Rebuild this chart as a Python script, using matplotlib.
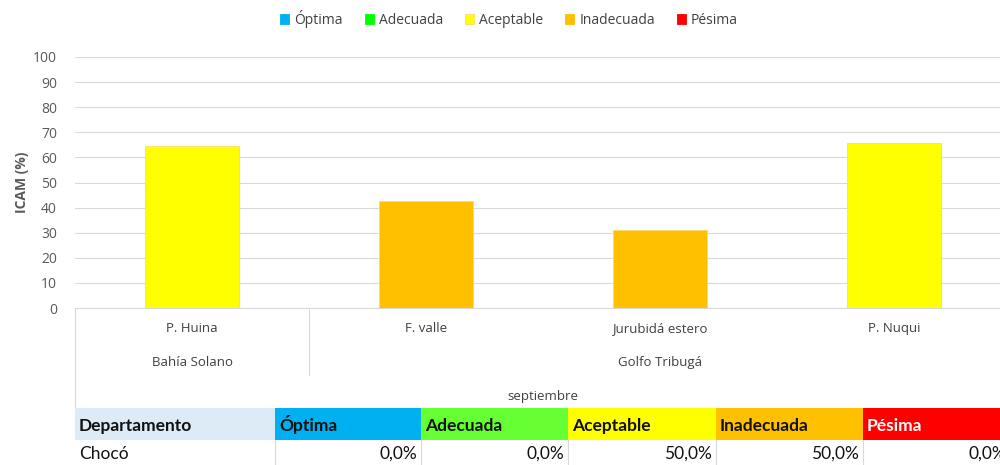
import matplotlib.pyplot as plt
from matplotlib.patches import Rectangle
from matplotlib.lines import Line2D

# data
estaciones = ["P. Huina", "F. valle", "Jurubidá estero", "P. Nuqui"]
icam = [64.5, 42.6, 31.2, 65.7]
bar_colors = ["#FFFF00", "#FFC000", "#FFC000", "#FFFF00"]
zonas = ["Bahía Solano", "Golfo Tribugá"]
zona_n = [1, 3]
mes = "septiembre"

clases = ["Óptima", "Adecuada", "Aceptable", "Inadecuada", "Pésima"]
legend_colors = ["#00B0F0", "#00FF00", "#FFFF00", "#FFC000", "#FF0000"]
header_colors = ["#00B0F0", "#66FF33", "#FFFF00", "#FFC000", "#FF0000"]
departamento = "Chocó"
porcentajes = ["0,0%", "0,0%", "50,0%", "50,0%", "0,0%"]

W, H = 1000, 465
fig = plt.figure(figsize=(W / 100, H / 100), dpi=100)
plt.rcParams['font.family'] = ['Open Sans', 'DejaVu Sans']


def fx(px):
    return px / W


def fy(py):
    return 1 - py / H


ax = fig.add_axes([fx(75), fy(308), fx(1011) - fx(75), fy(57) - fy(308)])
x = range(len(estaciones))
ax.bar(x, icam, width=0.4, color=bar_colors, edgecolor="#FFD966", linewidth=0.6, zorder=3)
ax.set_xlim(-0.5, len(estaciones) - 0.5)
ax.set_ylim(0, 100)
ax.set_yticks(range(0, 101, 10))
ax.yaxis.grid(True, color="#D9D9D9", linewidth=0.8)
ax.tick_params(axis="y", length=0, colors="#595959", labelsize=10, pad=13)
ax.tick_params(axis="x", length=0, labelbottom=False)
for s in ["top", "right", "left"]:
    ax.spines[s].set_visible(False)
ax.spines["bottom"].set_color("#D9D9D9")
ax.set_ylabel("ICAM (%)", color="#595959", fontsize=10, fontweight="bold", labelpad=3)

# category axis labels
tr = ax.get_xaxis_transform()
lab_kw = dict(transform=tr, ha="center", va="center", fontsize=9.5, color="#404040")
for i, name in enumerate(estaciones):
    ax.text(i, -0.08, name, **lab_kw)
start = -0.5
for k, (zona, n) in enumerate(zip(zonas, zona_n)):
    ax.text(start + n / 2, -0.219, zona, **lab_kw)
    if k > 0:
        ax.add_line(Line2D([start, start], [0, -0.267], transform=tr, color="#D9D9D9", lw=0.8, clip_on=False))
    start += n
ax.add_line(Line2D([-0.5, -0.5], [0, -0.406], transform=tr, color="#D9D9D9", lw=0.8, clip_on=False))
ax.text((len(estaciones) - 1) / 2, -0.351, mes, **lab_kw)

# legend
handles = [Rectangle((0, 0), 1, 1, facecolor=c, edgecolor=("#FFD966" if c == "#FFFF00" else c), lw=0.6)
           for c in legend_colors]
fig.legend(handles, clases, loc="center", bbox_to_anchor=(fx(509), fy(19)), ncol=5, frameon=False,
           fontsize=10, handlelength=0.65, handleheight=0.65, handletextpad=0.35, columnspacing=1.6,
           labelcolor="#404040")

# table under chart
col_edges = [75, 275, 421, 568, 716, 863, 1010]
head_top, head_bot, row_bot = 408, 440, 465
headers = ["Departamento"] + clases
hcolors = ["#DDEBF7"] + header_colors
tab_font = ["Lato", "DejaVu Sans"]
for j, (h, c) in enumerate(zip(headers, hcolors)):
    x0, x1 = col_edges[j], col_edges[j + 1]
    fig.patches.append(Rectangle((fx(x0), fy(head_bot)), fx(x1 - x0), fy(head_top) - fy(head_bot),
                                 transform=fig.transFigure, facecolor=c, edgecolor="none"))
    fig.text(fx(x0 + 4), fy(431), h, ha="left", va="baseline", fontsize=12.5,
             fontweight="bold", color=("white" if c == "#FF0000" else "#111111"), family=tab_font)
    if j > 0:
        fig.lines.append(Line2D([fx(x0), fx(x0)], [fy(row_bot), fy(head_bot)], transform=fig.transFigure,
                                color="#D9D9D9", lw=0.8))
fig.text(fx(col_edges[0] + 4), fy(459), departamento, ha="left", va="baseline",
         fontsize=12.5, color="#111111", family=tab_font)
for j, p in enumerate(porcentajes):
    fig.text(fx(col_edges[j + 2] - 4), fy(459), p, ha="right", va="baseline",
             fontsize=12.5, color="#111111", family=tab_font)

fig.savefig("out.png", dpi=100)
